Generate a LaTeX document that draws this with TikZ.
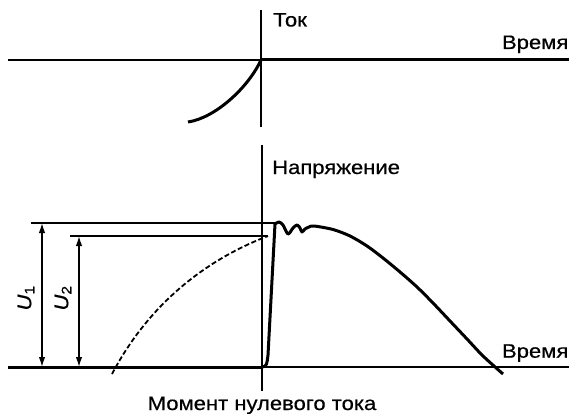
\documentclass[tikz,border=0pt]{standalone}
\usepackage{fontspec}
\usepackage{graphicx}
\setmainfont{Liberation Sans}
\newfontfamily\heavyfont{Liberation Sans}[FakeBold=0.5]
\usetikzlibrary{arrows.meta}
\newcommand{\widetext}[1]{\scalebox{1.13}[1]{#1}}
\begin{document}
\begin{tikzpicture}[x=1pt,y=-1pt,
  thinline/.style={line width=1.4pt},
  thickline/.style={line width=3pt, line join=round},
  lbl/.style={font=\heavyfont\fontsize{19.5}{22}\selectfont, inner sep=0pt},
  dim/.style={line width=1.4pt, {Latex[length=10pt,width=6.5pt]}-{Latex[length=10pt,width=6.5pt]}},
  dashcurve/.style={line width=1.8pt, dash pattern=on 5pt off 2.5pt}]
\useasboundingbox (0,0) rectangle (569,414);
% ---------- top plot: current ----------
\coordinate (O1) at (261,60);
\coordinate (TL) at (8,60);
\coordinate (TR) at (569,60);
\coordinate (V1t) at (261,10);
\coordinate (V1b) at (261,127);
\coordinate (C1) at (188,122);
\draw[thinline] (TL) -- (O1);
\draw[thickline] (O1) -- (TR);
\draw[thinline] (V1t) -- (V1b);
\draw[thickline] (O1) .. controls (248,88) and (215,118) .. (C1);
\node[lbl, anchor=base west] (tok) at (273,26.5) {\widetext{Ток}};
\node[lbl, anchor=base east] (t1) at (568.5,49) {\widetext{Время}};
% ---------- bottom plot: voltage ----------
\coordinate (O2) at (262,367);
\coordinate (BL) at (8,367);
\coordinate (BR) at (569,367);
\coordinate (V2t) at (262,145);
\coordinate (V2b) at (262,391);
\draw[thickline] (BL) -- (O2);
\draw[thinline] (O2) -- (BR);
\draw[thinline] (V2t) -- (V2b);
\node[lbl, anchor=base west] (nap) at (272,174) {\widetext{Напряжение}};
\node[lbl, anchor=base east] (t2) at (568.5,357.7) {\widetext{Время}};
\node[lbl, anchor=base] (mom) at (262,410) {\widetext{Момент нулевого тока}};
% levels
\coordinate (U1l) at (31,223);
\coordinate (U1r) at (276,223);
\coordinate (U2l) at (70,236);
\coordinate (U2r) at (268,236);
\draw[thinline] (U1l) -- (U1r);
\draw[thinline] (U2l) -- (U2r);
\coordinate (A1t) at (42,223);
\coordinate (A1b) at (42,367);
\coordinate (A2t) at (79,236);
\coordinate (A2b) at (79,367);
\draw[dim] (A1t) -- (A1b);
\draw[dim] (A2t) -- (A2b);
\node[lbl, rotate=90] (u1) at (26,298) {\widetext{\textit{U}\textsubscript{1}}};
\node[lbl, rotate=90] (u2) at (63,298) {\widetext{\textit{U}\textsubscript{2}}};
% prospective voltage (dashed)
\coordinate (D0) at (112,374);
\draw[dashcurve] (D0) .. controls (152,298) and (213,257) .. (U2r);
% recovery voltage
\coordinate (R1) at (268,355);
\coordinate (R2) at (275,224);
\draw[thickline] (O2) .. controls (267,367) and (267,363) .. (R1) -- (R2)
  -- plot[smooth] coordinates {(275,224) (279,222) (283,225) (288,234) (293,228) (297,225) (300,228) (302,232) (305,229) (309,227) (314,226)
     (333,229.5) (350,236) (367,246) (383,258) (400,272) (417,287) (433,303) (450,321) (467,339) (483,356) (503,374)};
\end{tikzpicture}
\end{document}
